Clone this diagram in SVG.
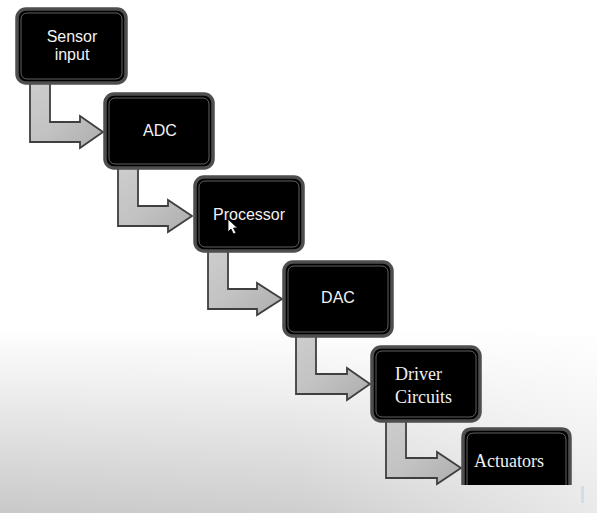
<svg xmlns="http://www.w3.org/2000/svg" width="597" height="513" viewBox="0 0 597 513">
  <defs>
    <linearGradient id="bgV" x1="0" y1="0" x2="0" y2="1">
      <stop offset="0" stop-color="#ffffff"/>
      <stop offset="0.64" stop-color="#ffffff"/>
      <stop offset="0.78" stop-color="#ebebeb"/>
      <stop offset="1" stop-color="#c9c9c9"/>
    </linearGradient>
    <linearGradient id="bgH" x1="0" y1="0" x2="1" y2="0">
      <stop offset="0" stop-color="#ffffff" stop-opacity="0"/>
      <stop offset="0.5" stop-color="#ffffff" stop-opacity="0.1"/>
      <stop offset="1" stop-color="#ffffff" stop-opacity="0.6"/>
    </linearGradient>
    <linearGradient id="arrowFill" x1="0" y1="0" x2="1" y2="1">
      <stop offset="0" stop-color="#cdcdcd"/>
      <stop offset="0.5" stop-color="#c2c2c2"/>
      <stop offset="1" stop-color="#adadad"/>
    </linearGradient>
    <style>
      .box { fill: #000000; stroke: #4e4e4e; stroke-width: 3.5; }
      .gloss { fill: none; stroke: #8a8a8a; stroke-width: 1; opacity: 0.7; }
      .arrow { fill: url(#arrowFill); stroke: #3f3f3f; stroke-width: 1.8; stroke-linejoin: miter; }
      .sans { font-family: "Liberation Sans", Arial, sans-serif; font-size: 16px; fill: #f2f2f2; text-anchor: middle; }
      .serif { font-family: "Liberation Serif", "Times New Roman", serif; font-size: 18px; fill: #f0f0f0; }
    </style>
  </defs>

  <rect x="0" y="0" width="597" height="513" fill="url(#bgV)"/>
  <rect x="0" y="0" width="597" height="513" fill="url(#bgH)"/>

  <g id="connectors">
    <path class="arrow" d="M30,83 H50 V122 H80 V116 L103,132 L80,148 V142 H30 Z"/>
    <path class="arrow" d="M118,168 H138 V206 H168 V200 L192,216 L168,232 V226 H118 Z"/>
    <path class="arrow" d="M208,251 H228 V289 H257 V283 L282,299 L257,315 V309 H208 Z"/>
    <path class="arrow" d="M296,336 H316 V374 H347 V368 L370,384 L347,400 V394 H296 Z"/>
    <path class="arrow" d="M386,421 H406 V458 H437 V452 L461,468 L437,484 V478 H386 Z"/>
  </g>

  <g id="sensor-input">
    <rect class="box" x="17" y="9" width="109" height="74" rx="9"/>
    <rect class="gloss" x="21" y="13" width="101" height="66" rx="6"/>
    <text class="sans" x="72" y="42">Sensor</text>
    <text class="sans" x="72" y="60">input</text>
  </g>

  <g id="adc">
    <rect class="box" x="105" y="94" width="108" height="74" rx="9"/>
    <rect class="gloss" x="109" y="98" width="100" height="66" rx="6"/>
    <text class="sans" x="160" y="136">ADC</text>
  </g>

  <g id="processor">
    <rect class="box" x="195" y="177" width="108" height="74" rx="9"/>
    <rect class="gloss" x="199" y="181" width="100" height="66" rx="6"/>
    <text class="sans" x="249" y="220">Processor</text>
    <path d="M228,219 L228,232 L231,229 L233.5,234 L236,233 L233.5,228 L237.5,228 Z" fill="#ffffff" stroke="#000000" stroke-width="0.8"/>
  </g>

  <g id="dac">
    <rect class="box" x="284" y="262" width="108" height="74" rx="9"/>
    <rect class="gloss" x="288" y="266" width="100" height="66" rx="6"/>
    <text class="sans" x="338" y="303">DAC</text>
  </g>

  <g id="driver-circuits">
    <rect class="box" x="372" y="347" width="108" height="74" rx="9"/>
    <rect class="gloss" x="376" y="351" width="100" height="66" rx="6"/>
    <text class="serif" x="395" y="380">Driver</text>
    <text class="serif" x="395" y="403">Circuits</text>
  </g>

  <g id="actuators">
    <path d="M463,485 V438 Q463,429 472,429 H561 Q570,429 570,438 V485 Z" fill="#000000"/>
    <path d="M463,485 V438 Q463,429 472,429 H561 Q570,429 570,438 V485" fill="none" stroke="#4e4e4e" stroke-width="3.5"/>
    <path d="M467,485 V440 Q467,433 474,433 H559 Q566,433 566,440 V485" fill="none" stroke="#8a8a8a" stroke-width="1" opacity="0.7"/>
    <text class="serif" x="474" y="467">Actuators</text>
  </g>

  <rect x="581" y="486" width="3" height="17" fill="#c9d9f2" opacity="0.8"/>
</svg>
